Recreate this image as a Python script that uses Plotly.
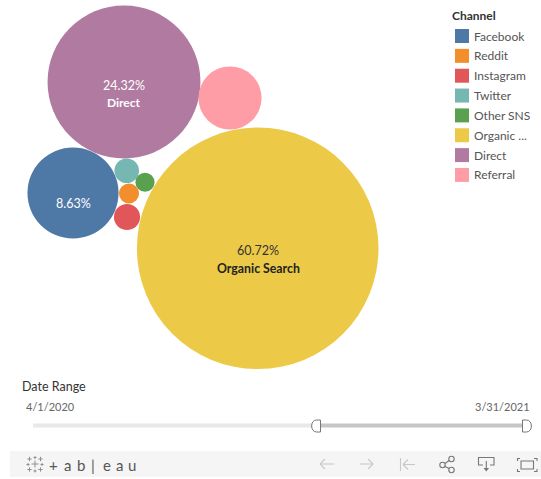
import plotly.graph_objects as go

channels = ["Facebook", "Reddit", "Instagram", "Twitter", "Other SNS", "Organic Search", "Direct", "Referral"]
legend_labels = ["Facebook", "Reddit", "Instagram", "Twitter", "Other SNS", "Organic ...", "Direct", "Referral"]
share_pct = [8.63, 0.42, 0.71, 0.63, 0.38, 60.72, 24.32, 4.15]
# packed-bubble positions
bubble_x = [73, 129, 127, 126.7, 145, 257.7, 124, 230]
bubble_y = [193, 193.5, 217, 170.7, 182.3, 248.3, 82, 98]
colors = ["#4e79a7", "#f28e2b", "#e15759", "#76b7b2", "#59a14f", "#edc948", "#b07aa1", "#ff9da7"]
date_start, date_end = "4/1/2020", "3/31/2021"

W, H = 541, 479
FONT = "Lato"
ICON = "#777777"
ICON_LIGHT = "#c8c8c8"

fig = go.Figure()
max_r = 120.8
fig.add_trace(go.Scatter(
    x=bubble_x, y=bubble_y, mode="markers",
    customdata=channels,
    hovertemplate="%{customdata}<extra></extra>",
    marker=dict(size=share_pct, sizemode="area", sizeref=max(share_pct) / 2 / max_r ** 2,
                color=colors, line=dict(width=0), opacity=1),
    showlegend=False,
))

ann, shapes = [], []

def text(x, y, s, size=12, color="#555555", anchor="left", bold=False):
    ann.append(dict(x=x, y=y, text=f"<b>{s}</b>" if bold else s, showarrow=False, xanchor=anchor, yanchor="middle",
                    font=dict(family=FONT, size=size, color=color), xref="x", yref="y",
                    borderpad=0, borderwidth=0))

# bubble labels
text(124, 85, "24.32%", 12.5, "#ffffff", "center")
text(124, 102, "Direct", 12, "#ffffff", "center", True)
text(73.5, 203, "8.63%", 12.5, "#ffffff", "center")
text(258, 250, "60.72%", 12.5, "#333333", "center")
text(258, 268, "Organic Search", 12.3, "#222222", "center", True)

# legend
text(452, 15, "Channel", 12, "#333333", bold=True)
for i, (lab, c) in enumerate(zip(legend_labels, colors)):
    yc = 36 + i * 19.85
    shapes.append(dict(type="rect", x0=455, x1=469, y0=yc - 7, y1=yc + 7, fillcolor=c, line=dict(width=0)))
    text(474, yc, lab, 12, "#555555")

# date range filter
text(22, 386, "Date Range", 12.5, "#333333")
text(25.5, 406, date_start, 11, "#666666")
text(530, 406, date_end, 11, "#666666", "right")
shapes.append(dict(type="rect", x0=33, x1=312, y0=423.5, y1=427.5, fillcolor="#e8e8e8", line=dict(width=0)))
shapes.append(dict(type="rect", x0=312, x1=524, y0=423.5, y1=427.5, fillcolor="#c6c6c6", line=dict(width=0)))
shapes.append(dict(type="path", path="M 320.5 420 L 316.5 420 C 310 420 310 432 316.5 432 L 320.5 432 Z",
                   fillcolor="white", line=dict(color="#777777", width=1)))
shapes.append(dict(type="path", path="M 522.5 420 L 526.5 420 C 533 420 533 432 526.5 432 L 522.5 432 Z",
                   fillcolor="white", line=dict(color="#777777", width=1)))

# toolbar
shapes.append(dict(type="rect", x0=10, x1=541, y0=451, y1=477, fillcolor="#f5f5f5", line=dict(width=0)))

def line(x0, y0, x1, y1, color=ICON, width=1.1):
    shapes.append(dict(type="line", x0=x0, y0=y0, x1=x1, y1=y1, line=dict(color=color, width=width)))

def plus(x, y, r, color="#888888", width=0.9):
    line(x - r, y, x + r, y, color, width)
    line(x, y - r, x, y + r, color, width)

for (px, py, pr) in [(35, 464, 3.5), (29.5, 459, 2.2), (40.5, 459, 2.2), (29.5, 469.5, 2.2), (40.5, 469.5, 2.2),
                     (35, 457.5, 1.5), (35, 471, 1.5), (28, 464.5, 1.5), (42, 464.5, 1.5)]:
    plus(px, py, pr)

# wordmark letters, spaced as in the reference
for lx, ch in zip([53, 67, 81, 93, 107, 119, 132], ["+", "a", "b", "|", "e", "a", "u"]):
    text(lx, 464.5, ch, 15, "#555555", "center")

# back, forward, reset (disabled)
line(334, 464, 320, 464, ICON_LIGHT)
line(320, 464, 325, 459, ICON_LIGHT)
line(320, 464, 325, 469, ICON_LIGHT)
line(360, 464, 373, 464, ICON_LIGHT)
line(373, 464, 368, 459, ICON_LIGHT)
line(373, 464, 368, 469, ICON_LIGHT)
line(400.5, 458, 400.5, 471, ICON_LIGHT)
line(415, 464.5, 403, 464.5, ICON_LIGHT)
line(403, 464.5, 408, 459.5, ICON_LIGHT)
line(403, 464.5, 408, 469.5, ICON_LIGHT)

# share
for cx, cy in [(442.5, 465), (451.5, 459), (451.5, 470)]:
    shapes.append(dict(type="circle", x0=cx - 2.7, x1=cx + 2.7, y0=cy - 2.7, y1=cy + 2.7,
                       fillcolor="rgba(0,0,0,0)", line=dict(color=ICON, width=1.1)))
line(445, 463.5, 449.2, 460.5, ICON, 1.1)
line(445, 466.5, 449.2, 468.5, ICON, 1.1)

# download
shapes.append(dict(type="path", path="M 483 465 L 478.5 465 L 478.5 457.5 L 494 457.5 L 494 465 L 490 465",
                   line=dict(color=ICON, width=1.1), fillcolor="rgba(0,0,0,0)"))
line(486.3, 461, 486.3, 469, ICON, 1.1)
shapes.append(dict(type="path", path="M 483.5 468 L 489 468 L 486.3 471.5 Z", fillcolor=ICON, line=dict(width=0)))

# fullscreen
shapes.append(dict(type="rect", x0=521, x1=533.5, y0=461, y1=469,
                   fillcolor="rgba(0,0,0,0)", line=dict(color=ICON, width=1.1)))
for p in ["M 517.5 461 L 517.5 458.5 L 520 458.5", "M 534 458.5 L 537 458.5 L 537 461",
          "M 517.5 469 L 517.5 471.5 L 520 471.5", "M 534 471.5 L 537 471.5 L 537 469"]:
    shapes.append(dict(type="path", path=p, line=dict(color=ICON, width=1.1), fillcolor="rgba(0,0,0,0)"))

fig.update_layout(
    width=W, height=H, margin=dict(l=0, r=0, t=0, b=0, pad=0),
    paper_bgcolor="white", plot_bgcolor="white",
    xaxis=dict(range=[0, W], visible=False, fixedrange=True),
    yaxis=dict(range=[H, 0], visible=False, fixedrange=True),
    annotations=ann, shapes=shapes, hovermode="closest",
    font=dict(family=FONT),
)

fig.write_html("out.html", config={"displayModeBar": False},
               post_script="document.body.style.margin='0';document.documentElement.style.overflow='hidden';")
